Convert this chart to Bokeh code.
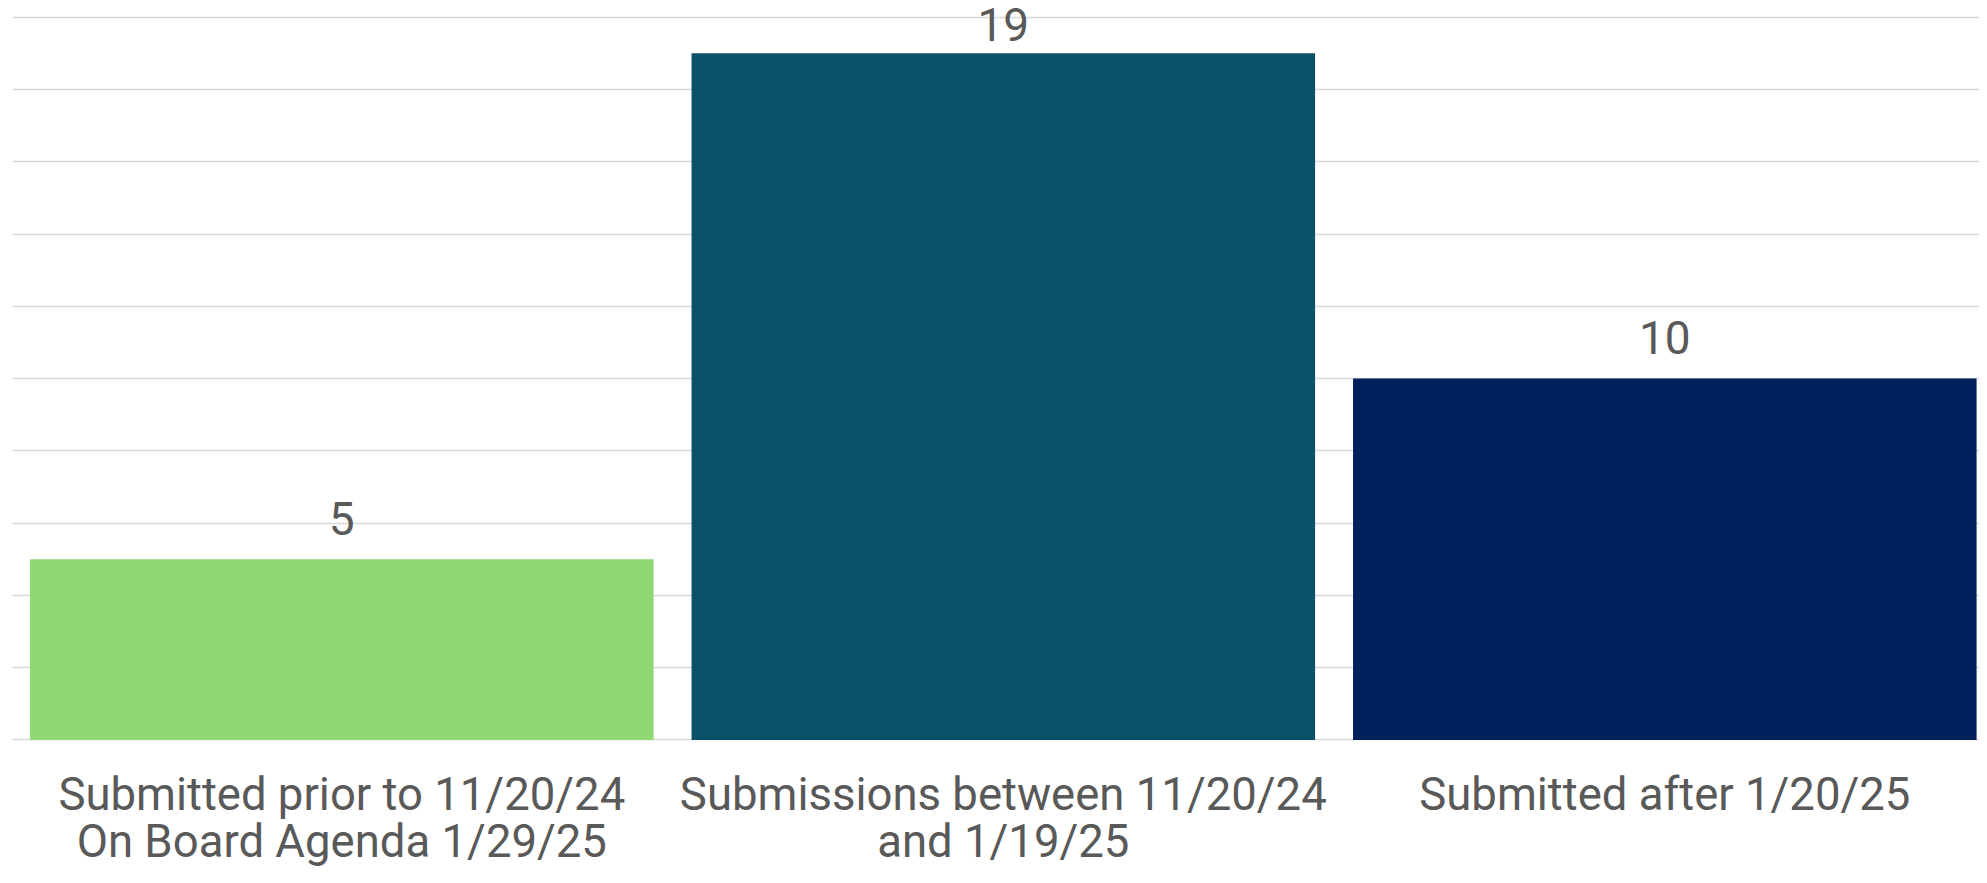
from bokeh.plotting import figure
from bokeh.models import ColumnDataSource, Range1d, FixedTicker
from bokeh.core.properties import value
from bokeh.embed import file_html
from bokeh.resources import INLINE

categories = ["Submitted prior to 11/20/24\nOn Board Agenda 1/29/25",
              "Submissions between 11/20/24\nand 1/19/25",
              "Submitted after 1/20/25"]
counts = [5, 19, 10]
colors = ["#8ED973", "#0B5069", "#00205C"]
grid_values = list(range(0, 21, 2))

Y_START, Y_END = -3.528, 20.462
PX_PER_UNIT = 36.14  # frame pixels per data unit (867px frame / range span)

xpos = list(range(len(categories)))
line1 = [c.split("\n")[0] for c in categories]
line2 = [(c.split("\n") + [""])[1] for c in categories]
# value labels float 41px above the bar, but are kept inside the chart at the top
label_y = [min(v + 41 / PX_PER_UNIT, Y_END - 24 / PX_PER_UNIT) for v in counts]

src = ColumnDataSource(dict(x=xpos, val=counts, color=colors, ly=label_y,
                            lbl=[str(v) for v in counts], zero=[0] * len(counts),
                            l1=line1, l2=line2))

p = figure(x_range=Range1d(-0.4978, 2.4757), y_range=Range1d(Y_START, Y_END),
           width=1979, height=867,
           output_backend="svg", toolbar_location=None,
           min_border_left=12, min_border_right=0, min_border_top=0, min_border_bottom=0)
p.outline_line_color = None
p.background_fill_color = "white"
p.border_fill_color = "white"

p.vbar(x="x", top="val", width=0.9426, fill_color="color", line_color=None, source=src)

p.text(x="x", y="ly", text="lbl", source=src, text_align="center",
       text_baseline="middle", text_font_size=value("46px"),
       text_color="#595959", text_font=value("Roboto"))
p.text(x="x", y="zero", text="l1", source=src, text_align="center",
       text_baseline="middle", y_offset=55, text_font_size=value("45.5px"),
       text_color="#595959", text_font=value("Roboto"))
p.text(x="x", y="zero", text="l2", source=src, text_align="center",
       text_baseline="middle", y_offset=102, text_font_size=value("45.5px"),
       text_color="#595959", text_font=value("Roboto"))

p.xaxis.visible = False
p.yaxis.visible = False
p.ygrid.ticker = FixedTicker(ticks=grid_values)
p.ygrid.grid_line_color = "#D9D9D9"
p.ygrid.grid_line_width = 1.5
p.xgrid.grid_line_color = None

open("out.html", "w").write(file_html(p, INLINE))
